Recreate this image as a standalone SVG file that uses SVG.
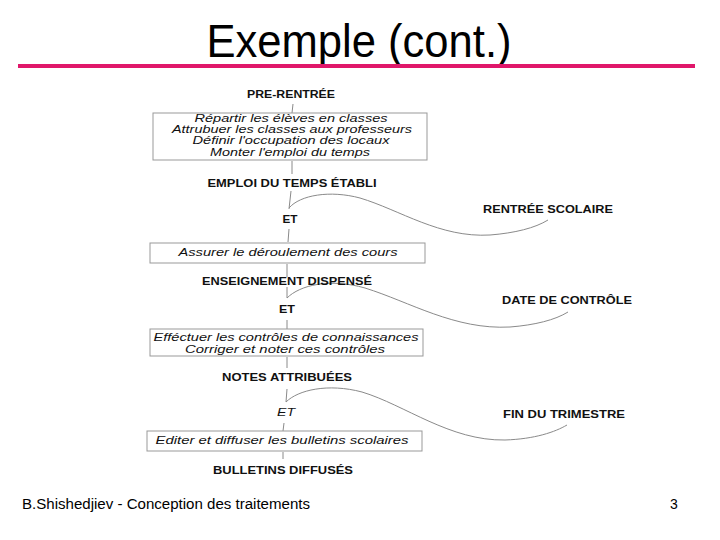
<svg xmlns="http://www.w3.org/2000/svg" width="720" height="540" viewBox="0 0 720 540">
<style>
.lbl{font-family:"Liberation Sans",Arial,sans-serif;font-weight:bold;font-size:11.5px;fill:#111;text-anchor:middle}
.it{font-family:"Liberation Sans",Arial,sans-serif;font-style:italic;font-size:11.5px;fill:#111;text-anchor:middle}
.box{fill:#fff;stroke:#999;stroke-width:1}
.con{fill:none;stroke:#8a8a8a;stroke-width:1}
</style>
<rect width="720" height="540" fill="#fff"/>
<text x="359" y="57" font-family="'Liberation Sans',Arial,sans-serif" font-size="46" text-anchor="middle" textLength="305" lengthAdjust="spacingAndGlyphs" fill="#000">Exemple (cont.)</text>
<rect x="18" y="64" width="677" height="4" fill="#e0176a"/>
<g id="connectors">
<path class="con" d="M293,104 L292,113"/>
<path class="con" d="M292,161 L292,174"/>
<path class="con" d="M291,191 L289,209"/>
<path class="con" d="M289,208 C300,195 330,190 360,198 C400,210 440,238 490,235 C515,233 535,228 548,220"/>
<path class="con" d="M289,229 L288,242"/>
<path class="con" d="M287,264 L287,277"/>
<path class="con" d="M287,287 L287,298"/>
<path class="con" d="M287,298 C300,285 330,278 365,288 C410,302 455,330 510,327 C535,325 555,320 568,312"/>
<path class="con" d="M287,320 L287,329"/>
<path class="con" d="M287,357 L287,368"/>
<path class="con" d="M287,389 L286,402"/>
<path class="con" d="M286,402 C298,390 328,383 362,392 C405,405 450,441 505,440 C535,439 555,432 567,425"/>
<path class="con" d="M284,423 L283,431"/>
<path class="con" d="M283,452 L283,459"/>
</g>
<g id="n-prerentree"><text class="lbl" x="291" y="98" textLength="88" lengthAdjust="spacingAndGlyphs">PRE-RENTRÉE</text></g>
<g id="n-box1">
<rect class="box" x="153" y="113" width="274" height="47"/>
<text class="it" x="291" y="122" textLength="193" lengthAdjust="spacingAndGlyphs">Répartir les élèves en classes</text>
<text class="it" x="292" y="133" textLength="240" lengthAdjust="spacingAndGlyphs">Attrubuer les classes aux professeurs</text>
<text class="it" x="291" y="144" textLength="197" lengthAdjust="spacingAndGlyphs">Définir l'occupation des locaux</text>
<text class="it" x="290" y="156" textLength="160" lengthAdjust="spacingAndGlyphs">Monter l'emploi du temps</text>
</g>
<g id="n-emploi"><text class="lbl" x="292" y="187" textLength="169" lengthAdjust="spacingAndGlyphs">EMPLOI DU TEMPS ÉTABLI</text></g>
<g id="n-et1"><text class="lbl" x="290" y="223" textLength="15" lengthAdjust="spacingAndGlyphs">ET</text></g>
<g id="n-rentree"><text class="lbl" x="548" y="213" textLength="130" lengthAdjust="spacingAndGlyphs">RENTRÉE SCOLAIRE</text></g>
<g id="n-box2">
<rect class="box" x="150" y="243" width="275" height="20"/>
<text class="it" x="288" y="256" textLength="219" lengthAdjust="spacingAndGlyphs">Assurer le déroulement des cours</text>
</g>
<g id="n-enseignement"><text class="lbl" x="287" y="285" textLength="170" lengthAdjust="spacingAndGlyphs">ENSEIGNEMENT DISPENSÉ</text></g>
<g id="n-et2"><text class="lbl" x="287" y="313" textLength="16" lengthAdjust="spacingAndGlyphs">ET</text></g>
<g id="n-date"><text class="lbl" x="567" y="304" textLength="130" lengthAdjust="spacingAndGlyphs">DATE DE CONTRÔLE</text></g>
<g id="n-box3">
<rect class="box" x="150" y="329" width="273" height="27"/>
<text class="it" x="286" y="341" textLength="265" lengthAdjust="spacingAndGlyphs">Efféctuer les contrôles de connaissances</text>
<text class="it" x="285" y="353" textLength="200" lengthAdjust="spacingAndGlyphs">Corriger et noter ces contrôles</text>
</g>
<g id="n-notes"><text class="lbl" x="287" y="381" textLength="130" lengthAdjust="spacingAndGlyphs">NOTES ATTRIBUÉES</text></g>
<g id="n-et3"><text class="it" x="286" y="416" font-size="13" textLength="18" lengthAdjust="spacingAndGlyphs">ET</text></g>
<g id="n-fin"><text class="lbl" x="564" y="418" textLength="122" lengthAdjust="spacingAndGlyphs">FIN DU TRIMESTRE</text></g>
<g id="n-box4">
<rect class="box" x="147" y="431" width="275" height="20"/>
<text class="it" x="282" y="444" textLength="253" lengthAdjust="spacingAndGlyphs">Editer et diffuser les bulletins scolaires</text>
</g>
<g id="n-bulletins"><text class="lbl" x="283" y="474" textLength="140" lengthAdjust="spacingAndGlyphs">BULLETINS DIFFUSÉS</text></g>
<text x="22" y="509" font-family="'Liberation Sans',Arial,sans-serif" font-size="14" textLength="288" lengthAdjust="spacingAndGlyphs" fill="#000">B.Shishedjiev - Conception des traitements</text>
<text x="670" y="509" font-family="'Liberation Sans',Arial,sans-serif" font-size="14" fill="#000">3</text>
</svg>
